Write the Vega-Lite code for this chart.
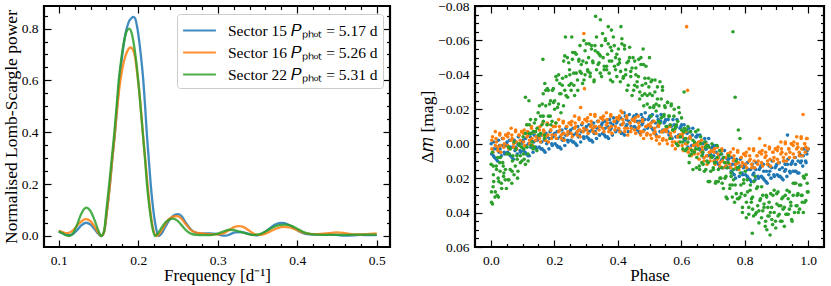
{
"$schema":"https://vega.github.io/schema/vega-lite/v6.json",
"autosize":{"type":"pad"},
"padding":{"left":1,"top":-3,"right":4,"bottom":0},
"background":"white",
"spacing":85,
"bounds":"flush",
"config":{
 "font":"Liberation Serif",
 "view":{"stroke":"black","strokeWidth":2.2},
 "axis":{"domain":false,"grid":false,"labelFont":"Liberation Serif","labelFontSize":13.5,"labelColor":"black","tickColor":"black","tickWidth":1.2,"titleFont":"Liberation Serif","titleFontSize":17.5,"titleFontWeight":"normal","titleColor":"black","labelFlush":false,"labelOverlap":false}
},
"resolve":{"scale":{"color":"independent"},"legend":{"color":"independent"}},
"hconcat":[
{
 "width":346,"height":241,
 "data":{"values":[
{"s":"15","f":0.100,"P":0.017},{"s":"15","f":0.105,"P":0.011},{"s":"15","f":0.110,"P":0.004},{"s":"15","f":0.113,"P":0.003},{"s":"15","f":0.118,"P":0.008},{"s":"15","f":0.123,"P":0.022},{"s":"15","f":0.128,"P":0.040},{"s":"15","f":0.1345,"P":0.051},{"s":"15","f":0.140,"P":0.044},{"s":"15","f":0.145,"P":0.027},{"s":"15","f":0.150,"P":0.008},{"s":"15","f":0.1535,"P":0.0},{"s":"15","f":0.157,"P":0.015},{"s":"15","f":0.1605,"P":0.09},{"s":"15","f":0.1645,"P":0.20},{"s":"15","f":0.1675,"P":0.30},{"s":"15","f":0.1708,"P":0.40},{"s":"15","f":0.1735,"P":0.50},{"s":"15","f":0.1763,"P":0.60},{"s":"15","f":0.180,"P":0.70},{"s":"15","f":0.184,"P":0.78},{"s":"15","f":0.188,"P":0.825},{"s":"15","f":0.1915,"P":0.84},{"s":"15","f":0.1938,"P":0.845},{"s":"15","f":0.196,"P":0.84},{"s":"15","f":0.199,"P":0.80},{"s":"15","f":0.2025,"P":0.72},{"s":"15","f":0.2064,"P":0.60},{"s":"15","f":0.2087,"P":0.50},{"s":"15","f":0.2107,"P":0.40},{"s":"15","f":0.2132,"P":0.30},{"s":"15","f":0.2157,"P":0.20},{"s":"15","f":0.219,"P":0.10},{"s":"15","f":0.2225,"P":0.03},{"s":"15","f":0.2255,"P":0.0},{"s":"15","f":0.229,"P":0.008},{"s":"15","f":0.234,"P":0.035},{"s":"15","f":0.240,"P":0.065},{"s":"15","f":0.245,"P":0.080},{"s":"15","f":0.2505,"P":0.084},{"s":"15","f":0.255,"P":0.075},{"s":"15","f":0.260,"P":0.050},{"s":"15","f":0.266,"P":0.026},{"s":"15","f":0.272,"P":0.013},{"s":"15","f":0.280,"P":0.009},{"s":"15","f":0.290,"P":0.010},{"s":"15","f":0.298,"P":0.008},{"s":"15","f":0.305,"P":0.002},{"s":"15","f":0.310,"P":0.001},{"s":"15","f":0.316,"P":0.007},{"s":"15","f":0.322,"P":0.014},{"s":"15","f":0.330,"P":0.015},{"s":"15","f":0.337,"P":0.010},{"s":"15","f":0.344,"P":0.004},{"s":"15","f":0.350,"P":0.002},{"s":"15","f":0.357,"P":0.010},{"s":"15","f":0.365,"P":0.028},{"s":"15","f":0.373,"P":0.045},{"s":"15","f":0.3805,"P":0.050},{"s":"15","f":0.388,"P":0.045},{"s":"15","f":0.395,"P":0.032},{"s":"15","f":0.402,"P":0.018},{"s":"15","f":0.410,"P":0.008},{"s":"15","f":0.420,"P":0.005},{"s":"15","f":0.430,"P":0.005},{"s":"15","f":0.440,"P":0.005},{"s":"15","f":0.450,"P":0.004},{"s":"15","f":0.460,"P":0.001},{"s":"15","f":0.470,"P":0.002},{"s":"15","f":0.480,"P":0.004},{"s":"15","f":0.490,"P":0.003},{"s":"15","f":0.500,"P":0.003},
{"s":"16","f":0.100,"P":0.020},{"s":"16","f":0.105,"P":0.015},{"s":"16","f":0.110,"P":0.011},{"s":"16","f":0.115,"P":0.015},{"s":"16","f":0.120,"P":0.028},{"s":"16","f":0.125,"P":0.046},{"s":"16","f":0.130,"P":0.060},{"s":"16","f":0.1345,"P":0.065},{"s":"16","f":0.140,"P":0.057},{"s":"16","f":0.145,"P":0.036},{"s":"16","f":0.150,"P":0.012},{"s":"16","f":0.1535,"P":0.0},{"s":"16","f":0.157,"P":0.015},{"s":"16","f":0.1605,"P":0.09},{"s":"16","f":0.1645,"P":0.20},{"s":"16","f":0.1675,"P":0.30},{"s":"16","f":0.1708,"P":0.40},{"s":"16","f":0.1735,"P":0.49},{"s":"16","f":0.1763,"P":0.57},{"s":"16","f":0.180,"P":0.645},{"s":"16","f":0.184,"P":0.695},{"s":"16","f":0.1875,"P":0.72},{"s":"16","f":0.1905,"P":0.727},{"s":"16","f":0.193,"P":0.72},{"s":"16","f":0.196,"P":0.69},{"s":"16","f":0.199,"P":0.62},{"s":"16","f":0.2025,"P":0.52},{"s":"16","f":0.2057,"P":0.40},{"s":"16","f":0.209,"P":0.29},{"s":"16","f":0.212,"P":0.19},{"s":"16","f":0.2155,"P":0.09},{"s":"16","f":0.219,"P":0.025},{"s":"16","f":0.2233,"P":0.0},{"s":"16","f":0.227,"P":0.01},{"s":"16","f":0.232,"P":0.035},{"s":"16","f":0.238,"P":0.063},{"s":"16","f":0.244,"P":0.075},{"s":"16","f":0.249,"P":0.077},{"s":"16","f":0.254,"P":0.068},{"s":"16","f":0.260,"P":0.045},{"s":"16","f":0.266,"P":0.024},{"s":"16","f":0.272,"P":0.014},{"s":"16","f":0.280,"P":0.010},{"s":"16","f":0.290,"P":0.007},{"s":"16","f":0.300,"P":0.006},{"s":"16","f":0.307,"P":0.010},{"s":"16","f":0.314,"P":0.022},{"s":"16","f":0.320,"P":0.033},{"s":"16","f":0.326,"P":0.038},{"s":"16","f":0.332,"P":0.035},{"s":"16","f":0.338,"P":0.024},{"s":"16","f":0.344,"P":0.011},{"s":"16","f":0.350,"P":0.004},{"s":"16","f":0.357,"P":0.006},{"s":"16","f":0.365,"P":0.016},{"s":"16","f":0.373,"P":0.028},{"s":"16","f":0.3826,"P":0.035},{"s":"16","f":0.390,"P":0.033},{"s":"16","f":0.398,"P":0.025},{"s":"16","f":0.406,"P":0.015},{"s":"16","f":0.414,"P":0.009},{"s":"16","f":0.422,"P":0.007},{"s":"16","f":0.430,"P":0.008},{"s":"16","f":0.440,"P":0.011},{"s":"16","f":0.4497,"P":0.014},{"s":"16","f":0.458,"P":0.012},{"s":"16","f":0.466,"P":0.008},{"s":"16","f":0.475,"P":0.006},{"s":"16","f":0.485,"P":0.007},{"s":"16","f":0.495,"P":0.009},{"s":"16","f":0.500,"P":0.010},
{"s":"22","f":0.100,"P":0.018},{"s":"22","f":0.105,"P":0.010},{"s":"22","f":0.110,"P":0.002},{"s":"22","f":0.1135,"P":0.0},{"s":"22","f":0.118,"P":0.010},{"s":"22","f":0.123,"P":0.043},{"s":"22","f":0.128,"P":0.083},{"s":"22","f":0.1345,"P":0.109},{"s":"22","f":0.140,"P":0.096},{"s":"22","f":0.145,"P":0.062},{"s":"22","f":0.150,"P":0.020},{"s":"22","f":0.1535,"P":0.0},{"s":"22","f":0.157,"P":0.018},{"s":"22","f":0.160,"P":0.10},{"s":"22","f":0.1635,"P":0.20},{"s":"22","f":0.1668,"P":0.30},{"s":"22","f":0.170,"P":0.40},{"s":"22","f":0.1728,"P":0.50},{"s":"22","f":0.1755,"P":0.60},{"s":"22","f":0.179,"P":0.69},{"s":"22","f":0.1825,"P":0.755},{"s":"22","f":0.1855,"P":0.79},{"s":"22","f":0.1888,"P":0.80},{"s":"22","f":0.192,"P":0.78},{"s":"22","f":0.195,"P":0.73},{"s":"22","f":0.198,"P":0.66},{"s":"22","f":0.2015,"P":0.55},{"s":"22","f":0.2057,"P":0.40},{"s":"22","f":0.2085,"P":0.30},{"s":"22","f":0.211,"P":0.20},{"s":"22","f":0.2145,"P":0.10},{"s":"22","f":0.218,"P":0.03},{"s":"22","f":0.221,"P":0.0},{"s":"22","f":0.224,"P":0.007},{"s":"22","f":0.229,"P":0.03},{"s":"22","f":0.235,"P":0.055},{"s":"22","f":0.2434,"P":0.067},{"s":"22","f":0.249,"P":0.060},{"s":"22","f":0.255,"P":0.040},{"s":"22","f":0.261,"P":0.020},{"s":"22","f":0.267,"P":0.008},{"s":"22","f":0.273,"P":0.004},{"s":"22","f":0.280,"P":0.003},{"s":"22","f":0.290,"P":0.003},{"s":"22","f":0.298,"P":0.007},{"s":"22","f":0.306,"P":0.016},{"s":"22","f":0.3155,"P":0.024},{"s":"22","f":0.324,"P":0.020},{"s":"22","f":0.332,"P":0.013},{"s":"22","f":0.339,"P":0.007},{"s":"22","f":0.345,"P":0.004},{"s":"22","f":0.352,"P":0.006},{"s":"22","f":0.360,"P":0.017},{"s":"22","f":0.368,"P":0.031},{"s":"22","f":0.376,"P":0.041},{"s":"22","f":0.3847,"P":0.044},{"s":"22","f":0.392,"P":0.040},{"s":"22","f":0.400,"P":0.028},{"s":"22","f":0.408,"P":0.015},{"s":"22","f":0.416,"P":0.008},{"s":"22","f":0.425,"P":0.005},{"s":"22","f":0.440,"P":0.004},{"s":"22","f":0.455,"P":0.004},{"s":"22","f":0.470,"P":0.005},{"s":"22","f":0.485,"P":0.005},{"s":"22","f":0.500,"P":0.005}
 ]},
 "layer":[
  {"mark":{"type":"line","interpolate":"monotone","strokeWidth":2.3,"opacity":0.85},
   "encoding":{
    "x":{"field":"f","type":"quantitative","scale":{"domain":[0.0815,0.5167],"nice":false,"zero":false},"axis":{"orient":"bottom","values":[0.1,0.2,0.3,0.4,0.5],"format":".1f","tickSize":-7,"labelPadding":13,"title":"Frequency [d⁻¹]","titlePadding":1,"titleFontSize":17}},
    "y":{"field":"P","type":"quantitative","scale":{"domain":[-0.0425,0.887],"nice":false,"zero":false},"axis":{"orient":"left","values":[0,0.2,0.4,0.6,0.8],"format":".1f","tickSize":-7,"labelPadding":13,"title":"Normalised Lomb-Scargle power","titlePadding":1}},
    "color":{"field":"s","type":"nominal","scale":{"domain":["15","16","22"],"range":["#1f77b4","#ff7f0e","#2ca02c"]},
     "legend":{"orient":"top-right","offset":7.5,"title":null,"padding":5,"fillColor":"rgba(255,255,255,0.85)","strokeColor":"#cccccc","cornerRadius":3,"symbolType":"M-1.6,0H1.6","symbolSize":420,"symbolStrokeWidth":2.2,"symbolOffset":6,"labelOffset":17,"rowPadding":2,"labelFont":"Liberation Serif","labelFontSize":15.5,"labelColor":"black",
      "labelExpr":"datum.label == '15' ? 'Sector 15 𝑃ₚₕₒₜ = 5.17 d' : datum.label == '16' ? 'Sector 16 𝑃ₚₕₒₜ = 5.26 d' : 'Sector 22 𝑃ₚₕₒₜ = 5.31 d'"}}
   }},
  {"mark":{"type":"point","opacity":0},
   "encoding":{
    "x":{"field":"f","type":"quantitative","axis":{"orient":"bottom","values":[0.12,0.14,0.16,0.18,0.22,0.24,0.26,0.28,0.32,0.34,0.36,0.38,0.42,0.44,0.46,0.48],"labels":false,"tickSize":-3.5,"title":null}},
    "y":{"field":"P","type":"quantitative","axis":{"orient":"left","values":[0.05,0.1,0.15,0.25,0.3,0.35,0.45,0.5,0.55,0.65,0.7,0.75,0.85],"labels":false,"tickSize":-3.5,"title":null}}
   }},
  {"mark":{"type":"point","opacity":0},
   "encoding":{
    "x":{"field":"f","type":"quantitative","axis":{"orient":"top","values":[0.1,0.2,0.3,0.4,0.5],"labels":false,"tickSize":-7,"title":null}},
    "y":{"field":"P","type":"quantitative","axis":{"orient":"right","values":[0,0.2,0.4,0.6,0.8],"labels":false,"tickSize":-7,"title":null}}
   }},
  {"mark":{"type":"point","opacity":0},
   "encoding":{
    "x":{"field":"f","type":"quantitative","axis":{"orient":"top","values":[0.12,0.14,0.16,0.18,0.22,0.24,0.26,0.28,0.32,0.34,0.36,0.38,0.42,0.44,0.46,0.48],"labels":false,"tickSize":-3.5,"title":null}},
    "y":{"field":"P","type":"quantitative","axis":{"orient":"right","values":[0.05,0.1,0.15,0.25,0.3,0.35,0.45,0.5,0.55,0.65,0.7,0.75,0.85],"labels":false,"tickSize":-3.5,"title":null}}
   }}
 ],
 "resolve":{"axis":{"x":"independent","y":"independent"}}
},
{
 "width":349,"height":241,
 "data":{"values":[
{"s":"15","p":0.001,"m":0.000},{"s":"15","p":0.008,"m":0.007},{"s":"15","p":0.010,"m":0.003},{"s":"15","p":0.017,"m":0.009},{"s":"15","p":0.024,"m":-0.002},{"s":"15","p":0.026,"m":0.005},{"s":"15","p":0.033,"m":0.007},{"s":"15","p":0.035,"m":0.001},{"s":"15","p":0.042,"m":0.005},{"s":"15","p":0.049,"m":0.000},
{"s":"15","p":0.051,"m":-0.001},{"s":"15","p":0.058,"m":0.006},{"s":"15","p":0.060,"m":0.002},{"s":"15","p":0.067,"m":0.008},{"s":"15","p":0.074,"m":-0.002},{"s":"15","p":0.076,"m":0.004},{"s":"15","p":0.083,"m":0.006},{"s":"15","p":0.085,"m":0.000},{"s":"15","p":0.092,"m":0.004},{"s":"15","p":0.099,"m":-0.001},
{"s":"15","p":0.101,"m":-0.002},{"s":"15","p":0.108,"m":0.005},{"s":"15","p":0.110,"m":0.001},{"s":"15","p":0.117,"m":0.007},{"s":"15","p":0.124,"m":-0.004},{"s":"15","p":0.126,"m":0.002},{"s":"15","p":0.133,"m":0.005},{"s":"15","p":0.135,"m":-0.001},{"s":"15","p":0.142,"m":0.002},{"s":"15","p":0.149,"m":-0.003},
{"s":"15","p":0.151,"m":-0.004},{"s":"15","p":0.158,"m":0.003},{"s":"15","p":0.160,"m":-0.001},{"s":"15","p":0.167,"m":0.004},{"s":"15","p":0.174,"m":-0.006},{"s":"15","p":0.176,"m":0.000},{"s":"15","p":0.183,"m":0.003},{"s":"15","p":0.185,"m":-0.003},{"s":"15","p":0.192,"m":0.000},{"s":"15","p":0.199,"m":-0.005},
{"s":"15","p":0.201,"m":-0.006},{"s":"15","p":0.208,"m":0.001},{"s":"15","p":0.210,"m":-0.003},{"s":"15","p":0.217,"m":0.002},{"s":"15","p":0.224,"m":-0.008},{"s":"15","p":0.226,"m":-0.002},{"s":"15","p":0.233,"m":0.001},{"s":"15","p":0.235,"m":-0.005},{"s":"15","p":0.242,"m":-0.002},{"s":"15","p":0.249,"m":-0.007},
{"s":"15","p":0.251,"m":-0.008},{"s":"15","p":0.258,"m":-0.001},{"s":"15","p":0.260,"m":-0.005},{"s":"15","p":0.267,"m":0.000},{"s":"15","p":0.274,"m":-0.010},{"s":"15","p":0.276,"m":-0.004},{"s":"15","p":0.283,"m":-0.001},{"s":"15","p":0.285,"m":-0.007},{"s":"15","p":0.292,"m":-0.004},{"s":"15","p":0.299,"m":-0.009},
{"s":"15","p":0.301,"m":-0.010},{"s":"15","p":0.308,"m":-0.003},{"s":"15","p":0.310,"m":-0.007},{"s":"15","p":0.317,"m":-0.002},{"s":"15","p":0.324,"m":-0.012},{"s":"15","p":0.326,"m":-0.006},{"s":"15","p":0.333,"m":-0.003},{"s":"15","p":0.335,"m":-0.009},{"s":"15","p":0.342,"m":-0.005},{"s":"15","p":0.349,"m":-0.011},
{"s":"15","p":0.351,"m":-0.012},{"s":"15","p":0.358,"m":-0.005},{"s":"15","p":0.360,"m":-0.009},{"s":"15","p":0.367,"m":-0.004},{"s":"15","p":0.374,"m":-0.014},{"s":"15","p":0.376,"m":-0.008},{"s":"15","p":0.383,"m":-0.005},{"s":"15","p":0.385,"m":-0.011},{"s":"15","p":0.392,"m":-0.008},{"s":"15","p":0.399,"m":-0.013},
{"s":"15","p":0.401,"m":-0.014},{"s":"15","p":0.408,"m":-0.007},{"s":"15","p":0.410,"m":-0.011},{"s":"15","p":0.417,"m":-0.006},{"s":"15","p":0.424,"m":-0.016},{"s":"15","p":0.426,"m":-0.010},{"s":"15","p":0.433,"m":-0.007},{"s":"15","p":0.435,"m":-0.013},{"s":"15","p":0.442,"m":-0.010},{"s":"15","p":0.449,"m":-0.015},
{"s":"15","p":0.451,"m":-0.016},{"s":"15","p":0.458,"m":-0.009},{"s":"15","p":0.460,"m":-0.013},{"s":"15","p":0.467,"m":-0.007},{"s":"15","p":0.474,"m":-0.017},{"s":"15","p":0.476,"m":-0.011},{"s":"15","p":0.483,"m":-0.008},{"s":"15","p":0.485,"m":-0.014},{"s":"15","p":0.492,"m":-0.010},{"s":"15","p":0.499,"m":-0.015},
{"s":"15","p":0.501,"m":-0.016},{"s":"15","p":0.508,"m":-0.009},{"s":"15","p":0.510,"m":-0.013},{"s":"15","p":0.517,"m":-0.006},{"s":"15","p":0.524,"m":-0.016},{"s":"15","p":0.526,"m":-0.010},{"s":"15","p":0.533,"m":-0.007},{"s":"15","p":0.535,"m":-0.013},{"s":"15","p":0.542,"m":-0.008},{"s":"15","p":0.549,"m":-0.013},
{"s":"15","p":0.551,"m":-0.014},{"s":"15","p":0.558,"m":-0.007},{"s":"15","p":0.560,"m":-0.010},{"s":"15","p":0.567,"m":-0.004},{"s":"15","p":0.574,"m":-0.014},{"s":"15","p":0.576,"m":-0.008},{"s":"15","p":0.583,"m":-0.004},{"s":"15","p":0.585,"m":-0.010},{"s":"15","p":0.592,"m":-0.005},{"s":"15","p":0.599,"m":-0.010},
{"s":"15","p":0.601,"m":-0.011},{"s":"15","p":0.608,"m":-0.003},{"s":"15","p":0.610,"m":-0.007},{"s":"15","p":0.617,"m":0.000},{"s":"15","p":0.624,"m":-0.009},{"s":"15","p":0.626,"m":-0.003},{"s":"15","p":0.633,"m":0.001},{"s":"15","p":0.635,"m":-0.005},{"s":"15","p":0.642,"m":0.000},{"s":"15","p":0.649,"m":-0.004},
{"s":"15","p":0.651,"m":-0.005},{"s":"15","p":0.658,"m":0.003},{"s":"15","p":0.660,"m":-0.001},{"s":"15","p":0.667,"m":0.006},{"s":"15","p":0.674,"m":-0.003},{"s":"15","p":0.676,"m":0.003},{"s":"15","p":0.683,"m":0.007},{"s":"15","p":0.685,"m":0.001},{"s":"15","p":0.692,"m":0.006},{"s":"15","p":0.699,"m":0.002},
{"s":"15","p":0.701,"m":0.001},{"s":"15","p":0.708,"m":0.009},{"s":"15","p":0.710,"m":0.005},{"s":"15","p":0.717,"m":0.012},{"s":"15","p":0.724,"m":0.004},{"s":"15","p":0.726,"m":0.010},{"s":"15","p":0.733,"m":0.014},{"s":"15","p":0.735,"m":0.008},{"s":"15","p":0.742,"m":0.013},{"s":"15","p":0.749,"m":0.009},
{"s":"15","p":0.751,"m":0.008},{"s":"15","p":0.758,"m":0.016},{"s":"15","p":0.760,"m":0.012},{"s":"15","p":0.767,"m":0.018},{"s":"15","p":0.774,"m":0.009},{"s":"15","p":0.776,"m":0.015},{"s":"15","p":0.783,"m":0.019},{"s":"15","p":0.785,"m":0.013},{"s":"15","p":0.792,"m":0.017},{"s":"15","p":0.799,"m":0.013},
{"s":"15","p":0.801,"m":0.012},{"s":"15","p":0.808,"m":0.019},{"s":"15","p":0.810,"m":0.015},{"s":"15","p":0.817,"m":0.021},{"s":"15","p":0.824,"m":0.012},{"s":"15","p":0.826,"m":0.018},{"s":"15","p":0.833,"m":0.021},{"s":"15","p":0.835,"m":0.015},{"s":"15","p":0.842,"m":0.019},{"s":"15","p":0.849,"m":0.014},
{"s":"15","p":0.851,"m":0.013},{"s":"15","p":0.858,"m":0.020},{"s":"15","p":0.860,"m":0.016},{"s":"15","p":0.867,"m":0.022},{"s":"15","p":0.874,"m":0.012},{"s":"15","p":0.876,"m":0.018},{"s":"15","p":0.883,"m":0.020},{"s":"15","p":0.885,"m":0.014},{"s":"15","p":0.892,"m":0.018},{"s":"15","p":0.899,"m":0.013},
{"s":"15","p":0.901,"m":0.012},{"s":"15","p":0.908,"m":0.019},{"s":"15","p":0.910,"m":0.015},{"s":"15","p":0.917,"m":0.020},{"s":"15","p":0.924,"m":0.010},{"s":"15","p":0.926,"m":0.016},{"s":"15","p":0.933,"m":0.019},{"s":"15","p":0.935,"m":0.012},{"s":"15","p":0.942,"m":0.016},{"s":"15","p":0.949,"m":0.011},
{"s":"15","p":0.951,"m":0.010},{"s":"15","p":0.958,"m":0.016},{"s":"15","p":0.960,"m":0.012},{"s":"15","p":0.967,"m":0.017},{"s":"15","p":0.974,"m":0.006},{"s":"15","p":0.976,"m":0.011},{"s":"15","p":0.983,"m":0.013},{"s":"15","p":0.985,"m":0.007},{"s":"15","p":0.992,"m":0.010},{"s":"15","p":0.997,"m":0.004},{"s":"15","p":1.000,"m":0.003},
{"s":"15","p":0.935,"m":-0.005},{"s":"15","p":0.42,"m":-0.018},
{"s":"15","p":0.0025,"m":0.006},{"s":"15","p":0.009,"m":-0.001},{"s":"15","p":0.0115,"m":0.008},{"s":"15","p":0.0185,"m":0.003},{"s":"15","p":0.021,"m":0.010},{"s":"15","p":0.0275,"m":0.001},{"s":"15","p":0.029,"m":0.003},{"s":"15","p":0.0365,"m":-0.003},{"s":"15","p":0.0435,"m":0.006},{"s":"15","p":0.046,"m":0.001},
{"s":"15","p":0.0525,"m":0.005},{"s":"15","p":0.059,"m":-0.002},{"s":"15","p":0.0615,"m":0.007},{"s":"15","p":0.0685,"m":0.002},{"s":"15","p":0.071,"m":0.009},{"s":"15","p":0.0775,"m":-0.001},{"s":"15","p":0.079,"m":0.002},{"s":"15","p":0.0865,"m":-0.004},{"s":"15","p":0.0935,"m":0.005},{"s":"15","p":0.096,"m":0.000},
{"s":"15","p":0.1025,"m":0.004},{"s":"15","p":0.109,"m":-0.003},{"s":"15","p":0.1115,"m":0.006},{"s":"15","p":0.1185,"m":0.000},{"s":"15","p":0.121,"m":0.007},{"s":"15","p":0.1275,"m":-0.002},{"s":"15","p":0.129,"m":0.001},{"s":"15","p":0.1365,"m":-0.005},{"s":"15","p":0.1435,"m":0.003},{"s":"15","p":0.146,"m":-0.002},
{"s":"15","p":0.1525,"m":0.002},{"s":"15","p":0.159,"m":-0.005},{"s":"15","p":0.1615,"m":0.003},{"s":"15","p":0.1685,"m":-0.002},{"s":"15","p":0.171,"m":0.005},{"s":"15","p":0.1775,"m":-0.004},{"s":"15","p":0.179,"m":-0.001},{"s":"15","p":0.1865,"m":-0.007},{"s":"15","p":0.1935,"m":0.001},{"s":"15","p":0.196,"m":-0.004},
{"s":"15","p":0.2025,"m":0.000},{"s":"15","p":0.209,"m":-0.007},{"s":"15","p":0.2115,"m":0.002},{"s":"15","p":0.2185,"m":-0.004},{"s":"15","p":0.221,"m":0.003},{"s":"15","p":0.2275,"m":-0.006},{"s":"15","p":0.229,"m":-0.003},{"s":"15","p":0.2365,"m":-0.009},{"s":"15","p":0.2435,"m":-0.001},{"s":"15","p":0.246,"m":-0.006},
{"s":"15","p":0.2525,"m":-0.002},{"s":"15","p":0.259,"m":-0.009},{"s":"15","p":0.2615,"m":-0.001},{"s":"15","p":0.2685,"m":-0.006},{"s":"15","p":0.271,"m":0.001},{"s":"15","p":0.2775,"m":-0.008},{"s":"15","p":0.279,"m":-0.005},{"s":"15","p":0.2865,"m":-0.011},{"s":"15","p":0.2935,"m":-0.003},{"s":"15","p":0.296,"m":-0.008},
{"s":"15","p":0.3025,"m":-0.004},{"s":"15","p":0.309,"m":-0.011},{"s":"15","p":0.3115,"m":-0.002},{"s":"15","p":0.3185,"m":-0.008},{"s":"15","p":0.321,"m":-0.001},{"s":"15","p":0.3275,"m":-0.010},{"s":"15","p":0.329,"m":-0.007},{"s":"15","p":0.3365,"m":-0.013},{"s":"15","p":0.3435,"m":-0.005},{"s":"15","p":0.346,"m":-0.010},
{"s":"15","p":0.3525,"m":-0.006},{"s":"15","p":0.359,"m":-0.013},{"s":"15","p":0.3615,"m":-0.004},{"s":"15","p":0.3685,"m":-0.010},{"s":"15","p":0.371,"m":-0.003},{"s":"15","p":0.3775,"m":-0.012},{"s":"15","p":0.379,"m":-0.009},{"s":"15","p":0.3865,"m":-0.015},{"s":"15","p":0.3935,"m":-0.007},{"s":"15","p":0.396,"m":-0.012},
{"s":"15","p":0.4025,"m":-0.008},{"s":"15","p":0.409,"m":-0.015},{"s":"15","p":0.4115,"m":-0.006},{"s":"15","p":0.4185,"m":-0.012},{"s":"15","p":0.421,"m":-0.005},{"s":"15","p":0.4275,"m":-0.014},{"s":"15","p":0.429,"m":-0.011},{"s":"15","p":0.4365,"m":-0.017},{"s":"15","p":0.4435,"m":-0.009},{"s":"15","p":0.446,"m":-0.014},
{"s":"15","p":0.4525,"m":-0.010},{"s":"15","p":0.459,"m":-0.017},{"s":"15","p":0.4615,"m":-0.008},{"s":"15","p":0.4685,"m":-0.013},{"s":"15","p":0.471,"m":-0.006},{"s":"15","p":0.4775,"m":-0.015},{"s":"15","p":0.479,"m":-0.012},{"s":"15","p":0.4865,"m":-0.018},{"s":"15","p":0.4935,"m":-0.009},{"s":"15","p":0.496,"m":-0.014},
{"s":"15","p":0.5025,"m":-0.010},{"s":"15","p":0.509,"m":-0.017},{"s":"15","p":0.5115,"m":-0.008},{"s":"15","p":0.5185,"m":-0.012},{"s":"15","p":0.521,"m":-0.005},{"s":"15","p":0.5275,"m":-0.014},{"s":"15","p":0.529,"m":-0.011},{"s":"15","p":0.5365,"m":-0.017},{"s":"15","p":0.5435,"m":-0.007},{"s":"15","p":0.546,"m":-0.012},
{"s":"15","p":0.5525,"m":-0.008},{"s":"15","p":0.559,"m":-0.014},{"s":"15","p":0.5615,"m":-0.005},{"s":"15","p":0.5685,"m":-0.010},{"s":"15","p":0.571,"m":-0.003},{"s":"15","p":0.5775,"m":-0.011},{"s":"15","p":0.579,"m":-0.008},{"s":"15","p":0.5865,"m":-0.014},{"s":"15","p":0.5935,"m":-0.004},{"s":"15","p":0.596,"m":-0.009},
{"s":"15","p":0.6025,"m":-0.005},{"s":"15","p":0.609,"m":-0.011},{"s":"15","p":0.6115,"m":-0.002},{"s":"15","p":0.6185,"m":-0.006},{"s":"15","p":0.621,"m":0.002},{"s":"15","p":0.6275,"m":-0.007},{"s":"15","p":0.629,"m":-0.004},{"s":"15","p":0.6365,"m":-0.009},{"s":"15","p":0.6435,"m":0.001},{"s":"15","p":0.646,"m":-0.004},
{"s":"15","p":0.6525,"m":0.001},{"s":"15","p":0.659,"m":-0.005},{"s":"15","p":0.6615,"m":0.004},{"s":"15","p":0.6685,"m":0.000},{"s":"15","p":0.671,"m":0.008},{"s":"15","p":0.6775,"m":-0.001},{"s":"15","p":0.679,"m":0.003},{"s":"15","p":0.6865,"m":-0.003},{"s":"15","p":0.6935,"m":0.007},{"s":"15","p":0.696,"m":0.003},
{"s":"15","p":0.7025,"m":0.007},{"s":"15","p":0.709,"m":0.001},{"s":"15","p":0.7115,"m":0.011},{"s":"15","p":0.7185,"m":0.007},{"s":"15","p":0.721,"m":0.014},{"s":"15","p":0.7275,"m":0.006},{"s":"15","p":0.729,"m":0.009},{"s":"15","p":0.7365,"m":0.004},{"s":"15","p":0.7435,"m":0.014},{"s":"15","p":0.746,"m":0.009},
{"s":"15","p":0.7525,"m":0.014},{"s":"15","p":0.759,"m":0.008},{"s":"15","p":0.7615,"m":0.017},{"s":"15","p":0.7685,"m":0.012},{"s":"15","p":0.771,"m":0.020},{"s":"15","p":0.7775,"m":0.011},{"s":"15","p":0.779,"m":0.014},{"s":"15","p":0.7865,"m":0.009},{"s":"15","p":0.7935,"m":0.018},{"s":"15","p":0.796,"m":0.014},
{"s":"15","p":0.8025,"m":0.018},{"s":"15","p":0.809,"m":0.011},{"s":"15","p":0.8115,"m":0.020},{"s":"15","p":0.8185,"m":0.015},{"s":"15","p":0.821,"m":0.022},{"s":"15","p":0.8275,"m":0.014},{"s":"15","p":0.829,"m":0.017},{"s":"15","p":0.8365,"m":0.011},{"s":"15","p":0.8435,"m":0.020},{"s":"15","p":0.846,"m":0.015},
{"s":"15","p":0.8525,"m":0.019},{"s":"15","p":0.859,"m":0.012},{"s":"15","p":0.8615,"m":0.021},{"s":"15","p":0.8685,"m":0.016},{"s":"15","p":0.871,"m":0.023},{"s":"15","p":0.8775,"m":0.013},{"s":"15","p":0.879,"m":0.016},{"s":"15","p":0.8865,"m":0.010},{"s":"15","p":0.8935,"m":0.019},{"s":"15","p":0.896,"m":0.014},
{"s":"15","p":0.9025,"m":0.018},{"s":"15","p":0.909,"m":0.011},{"s":"15","p":0.9115,"m":0.019},{"s":"15","p":0.9185,"m":0.014},{"s":"15","p":0.921,"m":0.021},{"s":"15","p":0.9275,"m":0.012},{"s":"15","p":0.929,"m":0.015},{"s":"15","p":0.9365,"m":0.009},{"s":"15","p":0.9435,"m":0.017},{"s":"15","p":0.946,"m":0.012},
{"s":"15","p":0.9525,"m":0.016},{"s":"15","p":0.959,"m":0.008},{"s":"15","p":0.9615,"m":0.016},{"s":"15","p":0.9685,"m":0.010},{"s":"15","p":0.971,"m":0.017},{"s":"15","p":0.9775,"m":0.007},{"s":"15","p":0.979,"m":0.010},{"s":"15","p":0.9865,"m":0.003},{"s":"15","p":0.9935,"m":0.011},{"s":"15","p":0.996,"m":0.006},
{"s":"16","p":0.003,"m":0.003},{"s":"16","p":0.005,"m":-0.004},{"s":"16","p":0.014,"m":0.001},{"s":"16","p":0.016,"m":-0.003},{"s":"16","p":0.022,"m":0.004},{"s":"16","p":0.028,"m":-0.006},{"s":"16","p":0.030,"m":0.001},{"s":"16","p":0.039,"m":-0.003},{"s":"16","p":0.041,"m":0.002},{"s":"16","p":0.047,"m":-0.005},
{"s":"16","p":0.053,"m":0.001},{"s":"16","p":0.055,"m":-0.006},{"s":"16","p":0.064,"m":-0.002},{"s":"16","p":0.066,"m":-0.005},{"s":"16","p":0.072,"m":0.002},{"s":"16","p":0.078,"m":-0.008},{"s":"16","p":0.080,"m":-0.001},{"s":"16","p":0.089,"m":-0.005},{"s":"16","p":0.091,"m":0.000},{"s":"16","p":0.097,"m":-0.007},
{"s":"16","p":0.103,"m":-0.001},{"s":"16","p":0.105,"m":-0.008},{"s":"16","p":0.114,"m":-0.004},{"s":"16","p":0.116,"m":-0.007},{"s":"16","p":0.122,"m":0.000},{"s":"16","p":0.128,"m":-0.010},{"s":"16","p":0.130,"m":-0.003},{"s":"16","p":0.139,"m":-0.007},{"s":"16","p":0.141,"m":-0.002},{"s":"16","p":0.147,"m":-0.009},
{"s":"16","p":0.153,"m":-0.003},{"s":"16","p":0.155,"m":-0.010},{"s":"16","p":0.164,"m":-0.005},{"s":"16","p":0.166,"m":-0.008},{"s":"16","p":0.172,"m":-0.002},{"s":"16","p":0.178,"m":-0.012},{"s":"16","p":0.180,"m":-0.005},{"s":"16","p":0.189,"m":-0.008},{"s":"16","p":0.191,"m":-0.003},{"s":"16","p":0.197,"m":-0.010},
{"s":"16","p":0.203,"m":-0.005},{"s":"16","p":0.205,"m":-0.012},{"s":"16","p":0.214,"m":-0.007},{"s":"16","p":0.216,"m":-0.010},{"s":"16","p":0.222,"m":-0.003},{"s":"16","p":0.228,"m":-0.013},{"s":"16","p":0.230,"m":-0.006},{"s":"16","p":0.239,"m":-0.010},{"s":"16","p":0.241,"m":-0.005},{"s":"16","p":0.247,"m":-0.012},
{"s":"16","p":0.253,"m":-0.006},{"s":"16","p":0.255,"m":-0.013},{"s":"16","p":0.264,"m":-0.009},{"s":"16","p":0.266,"m":-0.012},{"s":"16","p":0.272,"m":-0.005},{"s":"16","p":0.278,"m":-0.015},{"s":"16","p":0.280,"m":-0.008},{"s":"16","p":0.289,"m":-0.012},{"s":"16","p":0.291,"m":-0.007},{"s":"16","p":0.297,"m":-0.014},
{"s":"16","p":0.303,"m":-0.008},{"s":"16","p":0.305,"m":-0.015},{"s":"16","p":0.314,"m":-0.010},{"s":"16","p":0.316,"m":-0.013},{"s":"16","p":0.322,"m":-0.007},{"s":"16","p":0.328,"m":-0.017},{"s":"16","p":0.330,"m":-0.010},{"s":"16","p":0.339,"m":-0.013},{"s":"16","p":0.341,"m":-0.008},{"s":"16","p":0.347,"m":-0.015},
{"s":"16","p":0.353,"m":-0.009},{"s":"16","p":0.355,"m":-0.016},{"s":"16","p":0.364,"m":-0.011},{"s":"16","p":0.366,"m":-0.014},{"s":"16","p":0.372,"m":-0.007},{"s":"16","p":0.378,"m":-0.017},{"s":"16","p":0.380,"m":-0.010},{"s":"16","p":0.389,"m":-0.013},{"s":"16","p":0.391,"m":-0.008},{"s":"16","p":0.397,"m":-0.015},
{"s":"16","p":0.403,"m":-0.009},{"s":"16","p":0.405,"m":-0.016},{"s":"16","p":0.414,"m":-0.011},{"s":"16","p":0.416,"m":-0.014},{"s":"16","p":0.422,"m":-0.007},{"s":"16","p":0.428,"m":-0.016},{"s":"16","p":0.430,"m":-0.009},{"s":"16","p":0.439,"m":-0.012},{"s":"16","p":0.441,"m":-0.007},{"s":"16","p":0.447,"m":-0.014},
{"s":"16","p":0.453,"m":-0.008},{"s":"16","p":0.455,"m":-0.015},{"s":"16","p":0.464,"m":-0.009},{"s":"16","p":0.466,"m":-0.012},{"s":"16","p":0.472,"m":-0.005},{"s":"16","p":0.478,"m":-0.014},{"s":"16","p":0.480,"m":-0.007},{"s":"16","p":0.489,"m":-0.010},{"s":"16","p":0.491,"m":-0.005},{"s":"16","p":0.497,"m":-0.011},
{"s":"16","p":0.503,"m":-0.005},{"s":"16","p":0.505,"m":-0.012},{"s":"16","p":0.514,"m":-0.006},{"s":"16","p":0.516,"m":-0.009},{"s":"16","p":0.522,"m":-0.002},{"s":"16","p":0.528,"m":-0.011},{"s":"16","p":0.530,"m":-0.004},{"s":"16","p":0.539,"m":-0.007},{"s":"16","p":0.541,"m":-0.002},{"s":"16","p":0.547,"m":-0.008},
{"s":"16","p":0.553,"m":-0.002},{"s":"16","p":0.555,"m":-0.009},{"s":"16","p":0.564,"m":-0.003},{"s":"16","p":0.566,"m":-0.006},{"s":"16","p":0.572,"m":0.001},{"s":"16","p":0.578,"m":-0.008},{"s":"16","p":0.580,"m":-0.001},{"s":"16","p":0.589,"m":-0.004},{"s":"16","p":0.591,"m":0.001},{"s":"16","p":0.597,"m":-0.005},
{"s":"16","p":0.603,"m":0.001},{"s":"16","p":0.605,"m":-0.006},{"s":"16","p":0.614,"m":0.000},{"s":"16","p":0.616,"m":-0.003},{"s":"16","p":0.622,"m":0.005},{"s":"16","p":0.628,"m":-0.004},{"s":"16","p":0.630,"m":0.003},{"s":"16","p":0.639,"m":0.001},{"s":"16","p":0.641,"m":0.006},{"s":"16","p":0.647,"m":0.000},
{"s":"16","p":0.653,"m":0.006},{"s":"16","p":0.655,"m":-0.001},{"s":"16","p":0.664,"m":0.005},{"s":"16","p":0.666,"m":0.002},{"s":"16","p":0.672,"m":0.010},{"s":"16","p":0.678,"m":0.000},{"s":"16","p":0.680,"m":0.007},{"s":"16","p":0.689,"m":0.005},{"s":"16","p":0.691,"m":0.010},{"s":"16","p":0.697,"m":0.004},
{"s":"16","p":0.703,"m":0.010},{"s":"16","p":0.705,"m":0.003},{"s":"16","p":0.714,"m":0.009},{"s":"16","p":0.716,"m":0.006},{"s":"16","p":0.722,"m":0.013},{"s":"16","p":0.728,"m":0.003},{"s":"16","p":0.730,"m":0.010},{"s":"16","p":0.739,"m":0.008},{"s":"16","p":0.741,"m":0.013},{"s":"16","p":0.747,"m":0.006},
{"s":"16","p":0.753,"m":0.012},{"s":"16","p":0.755,"m":0.005},{"s":"16","p":0.764,"m":0.010},{"s":"16","p":0.766,"m":0.007},{"s":"16","p":0.772,"m":0.014},{"s":"16","p":0.778,"m":0.004},{"s":"16","p":0.780,"m":0.011},{"s":"16","p":0.789,"m":0.008},{"s":"16","p":0.791,"m":0.013},{"s":"16","p":0.797,"m":0.006},
{"s":"16","p":0.803,"m":0.012},{"s":"16","p":0.805,"m":0.005},{"s":"16","p":0.814,"m":0.010},{"s":"16","p":0.816,"m":0.007},{"s":"16","p":0.822,"m":0.014},{"s":"16","p":0.828,"m":0.003},{"s":"16","p":0.830,"m":0.010},{"s":"16","p":0.839,"m":0.007},{"s":"16","p":0.841,"m":0.012},{"s":"16","p":0.847,"m":0.005},
{"s":"16","p":0.853,"m":0.011},{"s":"16","p":0.855,"m":0.004},{"s":"16","p":0.864,"m":0.008},{"s":"16","p":0.866,"m":0.005},{"s":"16","p":0.872,"m":0.012},{"s":"16","p":0.878,"m":0.002},{"s":"16","p":0.880,"m":0.009},{"s":"16","p":0.889,"m":0.005},{"s":"16","p":0.891,"m":0.010},{"s":"16","p":0.897,"m":0.003},
{"s":"16","p":0.903,"m":0.009},{"s":"16","p":0.905,"m":0.002},{"s":"16","p":0.914,"m":0.006},{"s":"16","p":0.916,"m":0.003},{"s":"16","p":0.922,"m":0.010},{"s":"16","p":0.928,"m":-0.001},{"s":"16","p":0.930,"m":0.006},{"s":"16","p":0.939,"m":0.003},{"s":"16","p":0.941,"m":0.008},{"s":"16","p":0.947,"m":0.000},
{"s":"16","p":0.953,"m":0.006},{"s":"16","p":0.955,"m":-0.001},{"s":"16","p":0.964,"m":0.003},{"s":"16","p":0.966,"m":0.000},{"s":"16","p":0.972,"m":0.007},{"s":"16","p":0.978,"m":-0.004},{"s":"16","p":0.980,"m":0.003},{"s":"16","p":0.989,"m":0.000},{"s":"16","p":0.991,"m":0.005},{"s":"16","p":0.995,"m":-0.003},{"s":"16","p":0.999,"m":0.003},
{"s":"16","p":0.293,"m":-0.064},{"s":"16","p":0.295,"m":-0.032},{"s":"16","p":0.617,"m":-0.068},{"s":"16","p":0.620,"m":-0.031},{"s":"16","p":0.984,"m":-0.017},{"s":"16","p":0.847,"m":-0.003},{"s":"16","p":0.283,"m":-0.021},{"s":"16","p":0.410,"m":-0.019},
{"s":"16","p":0.003,"m":-0.002},{"s":"16","p":0.0065,"m":0.005},{"s":"16","p":0.014,"m":-0.007},{"s":"16","p":0.0175,"m":-0.001},{"s":"16","p":0.022,"m":0.002},{"s":"16","p":0.028,"m":-0.005},{"s":"16","p":0.0315,"m":0.005},{"s":"16","p":0.039,"m":-0.003},{"s":"16","p":0.0425,"m":0.000},{"s":"16","p":0.047,"m":-0.005},
{"s":"16","p":0.053,"m":-0.004},{"s":"16","p":0.0565,"m":0.003},{"s":"16","p":0.064,"m":-0.009},{"s":"16","p":0.0675,"m":-0.003},{"s":"16","p":0.072,"m":0.000},{"s":"16","p":0.078,"m":-0.007},{"s":"16","p":0.0815,"m":0.003},{"s":"16","p":0.089,"m":-0.005},{"s":"16","p":0.0925,"m":-0.002},{"s":"16","p":0.097,"m":-0.007},
{"s":"16","p":0.103,"m":-0.006},{"s":"16","p":0.1065,"m":0.001},{"s":"16","p":0.114,"m":-0.011},{"s":"16","p":0.1175,"m":-0.005},{"s":"16","p":0.122,"m":-0.002},{"s":"16","p":0.128,"m":-0.009},{"s":"16","p":0.1315,"m":0.001},{"s":"16","p":0.139,"m":-0.007},{"s":"16","p":0.1425,"m":-0.004},{"s":"16","p":0.147,"m":-0.009},
{"s":"16","p":0.153,"m":-0.008},{"s":"16","p":0.1565,"m":-0.001},{"s":"16","p":0.164,"m":-0.012},{"s":"16","p":0.1675,"m":-0.007},{"s":"16","p":0.172,"m":-0.004},{"s":"16","p":0.178,"m":-0.011},{"s":"16","p":0.1815,"m":-0.001},{"s":"16","p":0.189,"m":-0.008},{"s":"16","p":0.1925,"m":-0.005},{"s":"16","p":0.197,"m":-0.010},
{"s":"16","p":0.203,"m":-0.010},{"s":"16","p":0.2065,"m":-0.003},{"s":"16","p":0.214,"m":-0.014},{"s":"16","p":0.2175,"m":-0.008},{"s":"16","p":0.222,"m":-0.005},{"s":"16","p":0.228,"m":-0.012},{"s":"16","p":0.2315,"m":-0.002},{"s":"16","p":0.239,"m":-0.010},{"s":"16","p":0.2425,"m":-0.007},{"s":"16","p":0.247,"m":-0.012},
{"s":"16","p":0.253,"m":-0.011},{"s":"16","p":0.2565,"m":-0.004},{"s":"16","p":0.264,"m":-0.016},{"s":"16","p":0.2675,"m":-0.010},{"s":"16","p":0.272,"m":-0.007},{"s":"16","p":0.278,"m":-0.014},{"s":"16","p":0.2815,"m":-0.004},{"s":"16","p":0.289,"m":-0.012},{"s":"16","p":0.2925,"m":-0.009},{"s":"16","p":0.297,"m":-0.014},
{"s":"16","p":0.303,"m":-0.013},{"s":"16","p":0.3065,"m":-0.006},{"s":"16","p":0.314,"m":-0.017},{"s":"16","p":0.3175,"m":-0.011},{"s":"16","p":0.322,"m":-0.009},{"s":"16","p":0.328,"m":-0.016},{"s":"16","p":0.3315,"m":-0.006},{"s":"16","p":0.339,"m":-0.013},{"s":"16","p":0.3425,"m":-0.010},{"s":"16","p":0.347,"m":-0.015},
{"s":"16","p":0.353,"m":-0.014},{"s":"16","p":0.3565,"m":-0.007},{"s":"16","p":0.364,"m":-0.018},{"s":"16","p":0.3675,"m":-0.012},{"s":"16","p":0.372,"m":-0.009},{"s":"16","p":0.378,"m":-0.016},{"s":"16","p":0.3815,"m":-0.006},{"s":"16","p":0.389,"m":-0.013},{"s":"16","p":0.3925,"m":-0.010},{"s":"16","p":0.397,"m":-0.015},
{"s":"16","p":0.403,"m":-0.014},{"s":"16","p":0.4065,"m":-0.007},{"s":"16","p":0.414,"m":-0.018},{"s":"16","p":0.4175,"m":-0.012},{"s":"16","p":0.422,"m":-0.009},{"s":"16","p":0.428,"m":-0.015},{"s":"16","p":0.4315,"m":-0.005},{"s":"16","p":0.439,"m":-0.012},{"s":"16","p":0.4425,"m":-0.009},{"s":"16","p":0.447,"m":-0.014},
{"s":"16","p":0.453,"m":-0.013},{"s":"16","p":0.4565,"m":-0.006},{"s":"16","p":0.464,"m":-0.016},{"s":"16","p":0.4675,"m":-0.010},{"s":"16","p":0.472,"m":-0.007},{"s":"16","p":0.478,"m":-0.013},{"s":"16","p":0.4815,"m":-0.003},{"s":"16","p":0.489,"m":-0.010},{"s":"16","p":0.4925,"m":-0.006},{"s":"16","p":0.497,"m":-0.011},
{"s":"16","p":0.503,"m":-0.010},{"s":"16","p":0.5065,"m":-0.003},{"s":"16","p":0.514,"m":-0.013},{"s":"16","p":0.5175,"m":-0.007},{"s":"16","p":0.522,"m":-0.004},{"s":"16","p":0.528,"m":-0.010},{"s":"16","p":0.5315,"m":0.000},{"s":"16","p":0.539,"m":-0.007},{"s":"16","p":0.5425,"m":-0.003},{"s":"16","p":0.547,"m":-0.008},
{"s":"16","p":0.553,"m":-0.007},{"s":"16","p":0.5565,"m":0.000},{"s":"16","p":0.564,"m":-0.010},{"s":"16","p":0.5675,"m":-0.004},{"s":"16","p":0.572,"m":-0.001},{"s":"16","p":0.578,"m":-0.007},{"s":"16","p":0.5815,"m":0.003},{"s":"16","p":0.589,"m":-0.004},{"s":"16","p":0.5925,"m":-0.001},{"s":"16","p":0.597,"m":-0.005},
{"s":"16","p":0.603,"m":-0.004},{"s":"16","p":0.6065,"m":0.004},{"s":"16","p":0.614,"m":-0.007},{"s":"16","p":0.6175,"m":0.000},{"s":"16","p":0.622,"m":0.003},{"s":"16","p":0.628,"m":-0.003},{"s":"16","p":0.6315,"m":0.007},{"s":"16","p":0.639,"m":0.001},{"s":"16","p":0.6425,"m":0.004},{"s":"16","p":0.647,"m":0.000},
{"s":"16","p":0.653,"m":0.001},{"s":"16","p":0.6565,"m":0.009},{"s":"16","p":0.664,"m":-0.002},{"s":"16","p":0.6675,"m":0.004},{"s":"16","p":0.672,"m":0.008},{"s":"16","p":0.678,"m":0.001},{"s":"16","p":0.6815,"m":0.012},{"s":"16","p":0.689,"m":0.005},{"s":"16","p":0.6925,"m":0.008},{"s":"16","p":0.697,"m":0.004},
{"s":"16","p":0.703,"m":0.005},{"s":"16","p":0.7065,"m":0.012},{"s":"16","p":0.714,"m":0.002},{"s":"16","p":0.7175,"m":0.008},{"s":"16","p":0.722,"m":0.011},{"s":"16","p":0.728,"m":0.004},{"s":"16","p":0.7315,"m":0.014},{"s":"16","p":0.739,"m":0.008},{"s":"16","p":0.7425,"m":0.011},{"s":"16","p":0.747,"m":0.006},
{"s":"16","p":0.753,"m":0.007},{"s":"16","p":0.7565,"m":0.014},{"s":"16","p":0.764,"m":0.003},{"s":"16","p":0.7675,"m":0.009},{"s":"16","p":0.772,"m":0.012},{"s":"16","p":0.778,"m":0.005},{"s":"16","p":0.7815,"m":0.015},{"s":"16","p":0.789,"m":0.008},{"s":"16","p":0.7925,"m":0.011},{"s":"16","p":0.797,"m":0.006},
{"s":"16","p":0.803,"m":0.007},{"s":"16","p":0.8065,"m":0.014},{"s":"16","p":0.814,"m":0.003},{"s":"16","p":0.8175,"m":0.009},{"s":"16","p":0.822,"m":0.012},{"s":"16","p":0.828,"m":0.004},{"s":"16","p":0.8315,"m":0.014},{"s":"16","p":0.839,"m":0.007},{"s":"16","p":0.8425,"m":0.010},{"s":"16","p":0.847,"m":0.005},
{"s":"16","p":0.853,"m":0.006},{"s":"16","p":0.8565,"m":0.013},{"s":"16","p":0.864,"m":0.001},{"s":"16","p":0.8675,"m":0.007},{"s":"16","p":0.872,"m":0.010},{"s":"16","p":0.878,"m":0.003},{"s":"16","p":0.8815,"m":0.013},{"s":"16","p":0.889,"m":0.005},{"s":"16","p":0.8925,"m":0.008},{"s":"16","p":0.897,"m":0.003},
{"s":"16","p":0.903,"m":0.004},{"s":"16","p":0.9065,"m":0.011},{"s":"16","p":0.914,"m":-0.001},{"s":"16","p":0.9175,"m":0.005},{"s":"16","p":0.922,"m":0.008},{"s":"16","p":0.928,"m":0.000},{"s":"16","p":0.9315,"m":0.010},{"s":"16","p":0.939,"m":0.003},{"s":"16","p":0.9425,"m":0.005},{"s":"16","p":0.947,"m":0.000},
{"s":"16","p":0.953,"m":0.001},{"s":"16","p":0.9565,"m":0.008},{"s":"16","p":0.964,"m":-0.004},{"s":"16","p":0.9675,"m":0.002},{"s":"16","p":0.972,"m":0.005},{"s":"16","p":0.978,"m":-0.003},{"s":"16","p":0.9815,"m":0.007},{"s":"16","p":0.989,"m":0.000},{"s":"16","p":0.9925,"m":0.002},{"s":"16","p":0.997,"m":-0.003},
{"s":"22","p":0.001,"m":0.012},{"s":"22","p":0.007,"m":0.025},{"s":"22","p":0.008,"m":0.018},{"s":"22","p":0.014,"m":0.028},{"s":"22","p":0.017,"m":0.013},{"s":"22","p":0.023,"m":0.020},{"s":"22","p":0.024,"m":0.031},{"s":"22","p":0.028,"m":0.011},{"s":"22","p":0.033,"m":0.023},{"s":"22","p":0.039,"m":0.013},
{"s":"22","p":0.040,"m":0.019},{"s":"22","p":0.046,"m":0.015},{"s":"22","p":0.049,"m":0.026},{"s":"22","p":0.055,"m":0.002},{"s":"22","p":0.057,"m":0.021},{"s":"22","p":0.061,"m":0.003},{"s":"22","p":0.067,"m":0.016},{"s":"22","p":0.068,"m":0.010},{"s":"22","p":0.073,"m":0.018},{"s":"22","p":0.079,"m":0.003},
{"s":"22","p":0.083,"m":0.009},{"s":"22","p":0.084,"m":0.020},{"s":"22","p":0.089,"m":0.000},{"s":"22","p":0.093,"m":0.011},{"s":"22","p":0.097,"m":0.002},{"s":"22","p":0.103,"m":0.006},{"s":"22","p":0.104,"m":0.003},{"s":"22","p":0.109,"m":0.012},{"s":"22","p":0.113,"m":-0.011},{"s":"22","p":0.117,"m":0.006},
{"s":"22","p":0.121,"m":-0.011},{"s":"22","p":0.127,"m":0.001},{"s":"22","p":0.128,"m":-0.006},{"s":"22","p":0.133,"m":0.003},{"s":"22","p":0.137,"m":-0.012},{"s":"22","p":0.141,"m":-0.007},{"s":"22","p":0.145,"m":0.004},{"s":"22","p":0.149,"m":-0.018},{"s":"22","p":0.153,"m":-0.005},{"s":"22","p":0.157,"m":-0.016},
{"s":"22","p":0.161,"m":-0.011},{"s":"22","p":0.165,"m":-0.016},{"s":"22","p":0.169,"m":-0.005},{"s":"22","p":0.173,"m":-0.031},{"s":"22","p":0.177,"m":-0.011},{"s":"22","p":0.181,"m":-0.031},{"s":"22","p":0.187,"m":-0.016},{"s":"22","p":0.188,"m":-0.025},{"s":"22","p":0.193,"m":-0.013},{"s":"22","p":0.197,"m":-0.032},
{"s":"22","p":0.201,"m":-0.025},{"s":"22","p":0.205,"m":-0.012},{"s":"22","p":0.208,"m":-0.037},{"s":"22","p":0.213,"m":-0.023},{"s":"22","p":0.217,"m":-0.035},{"s":"22","p":0.221,"m":-0.029},{"s":"22","p":0.225,"m":-0.034},{"s":"22","p":0.229,"m":-0.022},{"s":"22","p":0.233,"m":-0.051},{"s":"22","p":0.237,"m":-0.028},
{"s":"22","p":0.241,"m":-0.050},{"s":"22","p":0.247,"m":-0.034},{"s":"22","p":0.248,"m":-0.043},{"s":"22","p":0.253,"m":-0.031},{"s":"22","p":0.257,"m":-0.049},{"s":"22","p":0.261,"m":-0.041},{"s":"22","p":0.264,"m":-0.028},{"s":"22","p":0.269,"m":-0.052},{"s":"22","p":0.273,"m":-0.037},{"s":"22","p":0.277,"m":-0.048},
{"s":"22","p":0.281,"m":-0.042},{"s":"22","p":0.285,"m":-0.046},{"s":"22","p":0.289,"m":-0.035},{"s":"22","p":0.293,"m":-0.060},{"s":"22","p":0.297,"m":-0.040},{"s":"22","p":0.301,"m":-0.058},{"s":"22","p":0.305,"m":-0.043},{"s":"22","p":0.308,"m":-0.050},{"s":"22","p":0.313,"m":-0.039},{"s":"22","p":0.317,"m":-0.055},
{"s":"22","p":0.321,"m":-0.048},{"s":"22","p":0.325,"m":-0.036},{"s":"22","p":0.328,"m":-0.057},{"s":"22","p":0.333,"m":-0.043},{"s":"22","p":0.337,"m":-0.053},{"s":"22","p":0.341,"m":-0.047},{"s":"22","p":0.345,"m":-0.051},{"s":"22","p":0.349,"m":-0.039},{"s":"22","p":0.352,"m":-0.064},{"s":"22","p":0.357,"m":-0.043},
{"s":"22","p":0.361,"m":-0.061},{"s":"22","p":0.365,"m":-0.045},{"s":"22","p":0.368,"m":-0.052},{"s":"22","p":0.373,"m":-0.041},{"s":"22","p":0.377,"m":-0.056},{"s":"22","p":0.381,"m":-0.048},{"s":"22","p":0.384,"m":-0.036},{"s":"22","p":0.389,"m":-0.057},{"s":"22","p":0.393,"m":-0.043},{"s":"22","p":0.397,"m":-0.052},
{"s":"22","p":0.401,"m":-0.046},{"s":"22","p":0.405,"m":-0.049},{"s":"22","p":0.408,"m":-0.036},{"s":"22","p":0.413,"m":-0.061},{"s":"22","p":0.417,"m":-0.038},{"s":"22","p":0.421,"m":-0.057},{"s":"22","p":0.425,"m":-0.040},{"s":"22","p":0.429,"m":-0.047},{"s":"22","p":0.433,"m":-0.034},{"s":"22","p":0.437,"m":-0.050},
{"s":"22","p":0.441,"m":-0.042},{"s":"22","p":0.445,"m":-0.028},{"s":"22","p":0.448,"m":-0.050},{"s":"22","p":0.453,"m":-0.034},{"s":"22","p":0.457,"m":-0.044},{"s":"22","p":0.461,"m":-0.036},{"s":"22","p":0.465,"m":-0.039},{"s":"22","p":0.469,"m":-0.026},{"s":"22","p":0.473,"m":-0.050},{"s":"22","p":0.477,"m":-0.028},
{"s":"22","p":0.481,"m":-0.046},{"s":"22","p":0.485,"m":-0.029},{"s":"22","p":0.488,"m":-0.035},{"s":"22","p":0.493,"m":-0.023},{"s":"22","p":0.497,"m":-0.038},{"s":"22","p":0.501,"m":-0.029},{"s":"22","p":0.505,"m":-0.016},{"s":"22","p":0.508,"m":-0.037},{"s":"22","p":0.513,"m":-0.021},{"s":"22","p":0.517,"m":-0.030},
{"s":"22","p":0.521,"m":-0.023},{"s":"22","p":0.525,"m":-0.026},{"s":"22","p":0.528,"m":-0.013},{"s":"22","p":0.533,"m":-0.036},{"s":"22","p":0.537,"m":-0.015},{"s":"22","p":0.541,"m":-0.031},{"s":"22","p":0.545,"m":-0.016},{"s":"22","p":0.548,"m":-0.022},{"s":"22","p":0.553,"m":-0.010},{"s":"22","p":0.557,"m":-0.024},
{"s":"22","p":0.561,"m":-0.016},{"s":"22","p":0.565,"m":-0.003},{"s":"22","p":0.568,"m":-0.022},{"s":"22","p":0.573,"m":-0.008},{"s":"22","p":0.577,"m":-0.016},{"s":"22","p":0.581,"m":-0.009},{"s":"22","p":0.585,"m":-0.011},{"s":"22","p":0.589,"m":0.001},{"s":"22","p":0.592,"m":-0.021},{"s":"22","p":0.597,"m":-0.001},
{"s":"22","p":0.601,"m":-0.015},{"s":"22","p":0.605,"m":-0.001},{"s":"22","p":0.608,"m":-0.007},{"s":"22","p":0.613,"m":0.004},{"s":"22","p":0.617,"m":-0.008},{"s":"22","p":0.621,"m":-0.001},{"s":"22","p":0.625,"m":0.011},{"s":"22","p":0.629,"m":-0.007},{"s":"22","p":0.632,"m":0.006},{"s":"22","p":0.637,"m":-0.002},
{"s":"22","p":0.641,"m":0.005},{"s":"22","p":0.645,"m":0.003},{"s":"22","p":0.648,"m":0.014},{"s":"22","p":0.653,"m":-0.008},{"s":"22","p":0.657,"m":0.013},{"s":"22","p":0.661,"m":-0.004},{"s":"22","p":0.665,"m":0.011},{"s":"22","p":0.668,"m":0.005},{"s":"22","p":0.673,"m":0.016},{"s":"22","p":0.677,"m":0.002},
{"s":"22","p":0.681,"m":0.010},{"s":"22","p":0.685,"m":0.022},{"s":"22","p":0.688,"m":0.002},{"s":"22","p":0.693,"m":0.016},{"s":"22","p":0.697,"m":0.008},{"s":"22","p":0.701,"m":0.014},{"s":"22","p":0.705,"m":0.011},{"s":"22","p":0.708,"m":0.023},{"s":"22","p":0.713,"m":0.001},{"s":"22","p":0.717,"m":0.022},
{"s":"22","p":0.721,"m":0.004},{"s":"22","p":0.725,"m":0.020},{"s":"22","p":0.728,"m":0.014},{"s":"22","p":0.733,"m":0.026},{"s":"22","p":0.737,"m":0.011},{"s":"22","p":0.741,"m":0.019},{"s":"22","p":0.745,"m":0.032},{"s":"22","p":0.748,"m":0.011},{"s":"22","p":0.753,"m":0.026},{"s":"22","p":0.757,"m":0.017},
{"s":"22","p":0.761,"m":0.024},{"s":"22","p":0.765,"m":0.021},{"s":"22","p":0.768,"m":0.034},{"s":"22","p":0.773,"m":0.010},{"s":"22","p":0.777,"m":0.032},{"s":"22","p":0.781,"m":0.014},{"s":"22","p":0.785,"m":0.031},{"s":"22","p":0.788,"m":0.024},{"s":"22","p":0.793,"m":0.037},{"s":"22","p":0.797,"m":0.021},
{"s":"22","p":0.801,"m":0.030},{"s":"22","p":0.805,"m":0.043},{"s":"22","p":0.808,"m":0.021},{"s":"22","p":0.813,"m":0.037},{"s":"22","p":0.817,"m":0.027},{"s":"22","p":0.821,"m":0.034},{"s":"22","p":0.825,"m":0.031},{"s":"22","p":0.828,"m":0.042},{"s":"22","p":0.833,"m":0.019},{"s":"22","p":0.837,"m":0.040},
{"s":"22","p":0.841,"m":0.025},{"s":"22","p":0.845,"m":0.039},{"s":"22","p":0.848,"m":0.033},{"s":"22","p":0.853,"m":0.043},{"s":"22","p":0.857,"m":0.030},{"s":"22","p":0.861,"m":0.037},{"s":"22","p":0.865,"m":0.048},{"s":"22","p":0.868,"m":0.030},{"s":"22","p":0.873,"m":0.042},{"s":"22","p":0.877,"m":0.034},
{"s":"22","p":0.881,"m":0.040},{"s":"22","p":0.885,"m":0.037},{"s":"22","p":0.888,"m":0.047},{"s":"22","p":0.893,"m":0.027},{"s":"22","p":0.897,"m":0.045},{"s":"22","p":0.901,"m":0.029},{"s":"22","p":0.905,"m":0.042},{"s":"22","p":0.908,"m":0.036},{"s":"22","p":0.913,"m":0.045},{"s":"22","p":0.917,"m":0.032},
{"s":"22","p":0.921,"m":0.038},{"s":"22","p":0.925,"m":0.048},{"s":"22","p":0.928,"m":0.030},{"s":"22","p":0.933,"m":0.041},{"s":"22","p":0.937,"m":0.032},{"s":"22","p":0.941,"m":0.038},{"s":"22","p":0.945,"m":0.034},{"s":"22","p":0.948,"m":0.044},{"s":"22","p":0.953,"m":0.023},{"s":"22","p":0.957,"m":0.040},
{"s":"22","p":0.961,"m":0.023},{"s":"22","p":0.965,"m":0.036},{"s":"22","p":0.968,"m":0.029},{"s":"22","p":0.973,"m":0.038},{"s":"22","p":0.977,"m":0.024},{"s":"22","p":0.981,"m":0.030},{"s":"22","p":0.985,"m":0.040},{"s":"22","p":0.988,"m":0.020},{"s":"22","p":0.993,"m":0.033},{"s":"22","p":0.997,"m":0.023},{"s":"22","p":1.000,"m":0.028},
{"s":"22","p":0.763,"m":-0.065},{"s":"22","p":0.770,"m":-0.027},{"s":"22","p":0.780,"m":-0.008},{"s":"22","p":0.785,"m":-0.003},{"s":"22","p":0.609,"m":-0.030},{"s":"22","p":0.330,"m":-0.074},{"s":"22","p":0.345,"m":-0.072},{"s":"22","p":0.370,"m":-0.068},{"s":"22","p":0.410,"m":-0.068},{"s":"22","p":0.380,"m":-0.066},
{"s":"22","p":0.824,"m":0.052},{"s":"22","p":0.880,"m":0.053},{"s":"22","p":0.870,"m":0.050},{"s":"22","p":0.002,"m":0.034},{"s":"22","p":0.005,"m":0.035},{"s":"22","p":0.020,"m":0.030},{"s":"22","p":0.165,"m":-0.029},{"s":"22","p":0.170,"m":-0.035},{"s":"22","p":0.235,"m":-0.062},{"s":"22","p":0.255,"m":-0.062},
{"s":"22","p":0.164,"m":-0.049},{"s":"22","p":0.109,"m":-0.027},{"s":"22","p":0.120,"m":-0.025},{"s":"22","p":0.005,"m":0.005},{"s":"22","p":0.030,"m":0.008},{"s":"22","p":0.480,"m":-0.055},{"s":"22","p":0.500,"m":-0.050},
{"s":"22","p":0.002,"m":0.028},{"s":"22","p":0.0075,"m":0.013},{"s":"22","p":0.009,"m":0.022},{"s":"22","p":0.013,"m":0.031},{"s":"22","p":0.018,"m":0.015},{"s":"22","p":0.0215,"m":0.008},{"s":"22","p":0.025,"m":0.022},{"s":"22","p":0.029,"m":0.016},{"s":"22","p":0.034,"m":0.026},{"s":"22","p":0.0375,"m":0.011},
{"s":"22","p":0.041,"m":0.017},{"s":"22","p":0.045,"m":0.021},{"s":"22","p":0.050,"m":0.006},{"s":"22","p":0.054,"m":0.021},{"s":"22","p":0.0575,"m":0.006},{"s":"22","p":0.061,"m":0.015},{"s":"22","p":0.066,"m":0.023},{"s":"22","p":0.0695,"m":0.007},{"s":"22","p":0.073,"m":-0.001},{"s":"22","p":0.077,"m":0.013},
{"s":"22","p":0.082,"m":0.007},{"s":"22","p":0.0855,"m":0.016},{"s":"22","p":0.089,"m":0.001},{"s":"22","p":0.093,"m":0.007},{"s":"22","p":0.098,"m":0.010},{"s":"22","p":0.1015,"m":-0.004},{"s":"22","p":0.105,"m":0.009},{"s":"22","p":0.109,"m":-0.006},{"s":"22","p":0.114,"m":0.002},{"s":"22","p":0.1175,"m":0.010},
{"s":"22","p":0.121,"m":-0.006},{"s":"22","p":0.125,"m":-0.014},{"s":"22","p":0.130,"m":-0.001},{"s":"22","p":0.1335,"m":-0.007},{"s":"22","p":0.137,"m":0.002},{"s":"22","p":0.141,"m":-0.014},{"s":"22","p":0.146,"m":-0.009},{"s":"22","p":0.1495,"m":-0.005},{"s":"22","p":0.153,"m":-0.022},{"s":"22","p":0.157,"m":-0.006},
{"s":"22","p":0.162,"m":-0.023},{"s":"22","p":0.1655,"m":-0.013},{"s":"22","p":0.169,"m":-0.003},{"s":"22","p":0.173,"m":-0.022},{"s":"22","p":0.178,"m":-0.032},{"s":"22","p":0.1815,"m":-0.016},{"s":"22","p":0.185,"m":-0.023},{"s":"22","p":0.189,"m":-0.011},{"s":"22","p":0.194,"m":-0.031},{"s":"22","p":0.1975,"m":-0.024},
{"s":"22","p":0.201,"m":-0.020},{"s":"22","p":0.205,"m":-0.039},{"s":"22","p":0.210,"m":-0.021},{"s":"22","p":0.2135,"m":-0.040},{"s":"22","p":0.217,"m":-0.029},{"s":"22","p":0.221,"m":-0.018},{"s":"22","p":0.226,"m":-0.038},{"s":"22","p":0.2295,"m":-0.048},{"s":"22","p":0.233,"m":-0.031},{"s":"22","p":0.237,"m":-0.039},
{"s":"22","p":0.242,"m":-0.027},{"s":"22","p":0.2455,"m":-0.047},{"s":"22","p":0.249,"m":-0.040},{"s":"22","p":0.253,"m":-0.035},{"s":"22","p":0.258,"m":-0.053},{"s":"22","p":0.2615,"m":-0.034},{"s":"22","p":0.265,"m":-0.053},{"s":"22","p":0.269,"m":-0.041},{"s":"22","p":0.274,"m":-0.031},{"s":"22","p":0.2775,"m":-0.049},
{"s":"22","p":0.281,"m":-0.057},{"s":"22","p":0.285,"m":-0.041},{"s":"22","p":0.290,"m":-0.048},{"s":"22","p":0.2935,"m":-0.037},{"s":"22","p":0.297,"m":-0.054},{"s":"22","p":0.301,"m":-0.047},{"s":"22","p":0.306,"m":-0.042},{"s":"22","p":0.3095,"m":-0.058},{"s":"22","p":0.313,"m":-0.041},{"s":"22","p":0.317,"m":-0.057},
{"s":"22","p":0.322,"m":-0.047},{"s":"22","p":0.3255,"m":-0.037},{"s":"22","p":0.329,"m":-0.054},{"s":"22","p":0.333,"m":-0.062},{"s":"22","p":0.338,"m":-0.046},{"s":"22","p":0.3415,"m":-0.052},{"s":"22","p":0.345,"m":-0.041},{"s":"22","p":0.349,"m":-0.057},{"s":"22","p":0.354,"m":-0.050},{"s":"22","p":0.3575,"m":-0.045},
{"s":"22","p":0.361,"m":-0.060},{"s":"22","p":0.365,"m":-0.043},{"s":"22","p":0.370,"m":-0.058},{"s":"22","p":0.3735,"m":-0.048},{"s":"22","p":0.377,"m":-0.037},{"s":"22","p":0.381,"m":-0.054},{"s":"22","p":0.386,"m":-0.062},{"s":"22","p":0.3895,"m":-0.045},{"s":"22","p":0.393,"m":-0.050},{"s":"22","p":0.397,"m":-0.039},
{"s":"22","p":0.402,"m":-0.055},{"s":"22","p":0.4055,"m":-0.047},{"s":"22","p":0.409,"m":-0.042},{"s":"22","p":0.413,"m":-0.058},{"s":"22","p":0.418,"m":-0.039},{"s":"22","p":0.4215,"m":-0.055},{"s":"22","p":0.425,"m":-0.043},{"s":"22","p":0.429,"m":-0.031},{"s":"22","p":0.434,"m":-0.048},{"s":"22","p":0.4375,"m":-0.056},
{"s":"22","p":0.441,"m":-0.039},{"s":"22","p":0.445,"m":-0.044},{"s":"22","p":0.450,"m":-0.031},{"s":"22","p":0.4535,"m":-0.048},{"s":"22","p":0.457,"m":-0.040},{"s":"22","p":0.461,"m":-0.033},{"s":"22","p":0.466,"m":-0.049},{"s":"22","p":0.4695,"m":-0.030},{"s":"22","p":0.473,"m":-0.046},{"s":"22","p":0.477,"m":-0.034},
{"s":"22","p":0.482,"m":-0.022},{"s":"22","p":0.4855,"m":-0.038},{"s":"22","p":0.489,"m":-0.045},{"s":"22","p":0.493,"m":-0.028},{"s":"22","p":0.498,"m":-0.033},{"s":"22","p":0.5015,"m":-0.021},{"s":"22","p":0.505,"m":-0.036},{"s":"22","p":0.509,"m":-0.028},{"s":"22","p":0.514,"m":-0.022},{"s":"22","p":0.5175,"m":-0.037},
{"s":"22","p":0.521,"m":-0.019},{"s":"22","p":0.525,"m":-0.033},{"s":"22","p":0.530,"m":-0.022},{"s":"22","p":0.5335,"m":-0.012},{"s":"22","p":0.537,"m":-0.026},{"s":"22","p":0.541,"m":-0.033},{"s":"22","p":0.546,"m":-0.017},{"s":"22","p":0.5495,"m":-0.021},{"s":"22","p":0.553,"m":-0.010},{"s":"22","p":0.557,"m":-0.024},
{"s":"22","p":0.562,"m":-0.016},{"s":"22","p":0.5655,"m":-0.011},{"s":"22","p":0.569,"m":-0.023},{"s":"22","p":0.573,"m":-0.008},{"s":"22","p":0.578,"m":-0.020},{"s":"22","p":0.5815,"m":-0.010},{"s":"22","p":0.585,"m":0.000},{"s":"22","p":0.589,"m":-0.013},{"s":"22","p":0.594,"m":-0.018},{"s":"22","p":0.5975,"m":-0.004},
{"s":"22","p":0.601,"m":-0.008},{"s":"22","p":0.605,"m":0.003},{"s":"22","p":0.610,"m":-0.009},{"s":"22","p":0.6135,"m":-0.003},{"s":"22","p":0.617,"m":0.003},{"s":"22","p":0.621,"m":-0.010},{"s":"22","p":0.626,"m":0.007},{"s":"22","p":0.6295,"m":-0.007},{"s":"22","p":0.633,"m":0.004},{"s":"22","p":0.637,"m":0.015},
{"s":"22","p":0.642,"m":-0.001},{"s":"22","p":0.6455,"m":-0.007},{"s":"22","p":0.649,"m":0.008},{"s":"22","p":0.653,"m":0.003},{"s":"22","p":0.658,"m":0.015},{"s":"22","p":0.6615,"m":0.000},{"s":"22","p":0.665,"m":0.007},{"s":"22","p":0.669,"m":0.012},{"s":"22","p":0.674,"m":-0.001},{"s":"22","p":0.6775,"m":0.015},
{"s":"22","p":0.681,"m":0.001},{"s":"22","p":0.685,"m":0.011},{"s":"22","p":0.690,"m":0.022},{"s":"22","p":0.6935,"m":0.007},{"s":"22","p":0.697,"m":0.000},{"s":"22","p":0.701,"m":0.015},{"s":"22","p":0.706,"m":0.011},{"s":"22","p":0.7095,"m":0.022},{"s":"22","p":0.713,"m":0.008},{"s":"22","p":0.717,"m":0.015},
{"s":"22","p":0.722,"m":0.020},{"s":"22","p":0.7255,"m":0.006},{"s":"22","p":0.729,"m":0.023},{"s":"22","p":0.733,"m":0.008},{"s":"22","p":0.738,"m":0.020},{"s":"22","p":0.7415,"m":0.031},{"s":"22","p":0.745,"m":0.014},{"s":"22","p":0.749,"m":0.007},{"s":"22","p":0.754,"m":0.024},{"s":"22","p":0.7575,"m":0.019},
{"s":"22","p":0.761,"m":0.031},{"s":"22","p":0.765,"m":0.015},{"s":"22","p":0.770,"m":0.024},{"s":"22","p":0.7735,"m":0.029},{"s":"22","p":0.777,"m":0.014},{"s":"22","p":0.781,"m":0.032},{"s":"22","p":0.786,"m":0.017},{"s":"22","p":0.7895,"m":0.029},{"s":"22","p":0.793,"m":0.040},{"s":"22","p":0.797,"m":0.023},
{"s":"22","p":0.802,"m":0.016},{"s":"22","p":0.8055,"m":0.034},{"s":"22","p":0.809,"m":0.028},{"s":"22","p":0.813,"m":0.041},{"s":"22","p":0.818,"m":0.024},{"s":"22","p":0.8215,"m":0.032},{"s":"22","p":0.825,"m":0.038},{"s":"22","p":0.829,"m":0.022},{"s":"22","p":0.834,"m":0.041},{"s":"22","p":0.8375,"m":0.026},
{"s":"22","p":0.841,"m":0.036},{"s":"22","p":0.845,"m":0.046},{"s":"22","p":0.850,"m":0.032},{"s":"22","p":0.8535,"m":0.025},{"s":"22","p":0.857,"m":0.039},{"s":"22","p":0.861,"m":0.035},{"s":"22","p":0.866,"m":0.045},{"s":"22","p":0.8695,"m":0.031},{"s":"22","p":0.873,"m":0.037},{"s":"22","p":0.877,"m":0.042},
{"s":"22","p":0.882,"m":0.029},{"s":"22","p":0.8855,"m":0.044},{"s":"22","p":0.889,"m":0.030},{"s":"22","p":0.893,"m":0.040},{"s":"22","p":0.898,"m":0.049},{"s":"22","p":0.9015,"m":0.035},{"s":"22","p":0.905,"m":0.028},{"s":"22","p":0.909,"m":0.041},{"s":"22","p":0.914,"m":0.036},{"s":"22","p":0.9175,"m":0.045},
{"s":"22","p":0.921,"m":0.031},{"s":"22","p":0.925,"m":0.037},{"s":"22","p":0.930,"m":0.041},{"s":"22","p":0.9335,"m":0.027},{"s":"22","p":0.937,"m":0.041},{"s":"22","p":0.941,"m":0.028},{"s":"22","p":0.946,"m":0.036},{"s":"22","p":0.9495,"m":0.045},{"s":"22","p":0.953,"m":0.030},{"s":"22","p":0.957,"m":0.023},
{"s":"22","p":0.962,"m":0.036},{"s":"22","p":0.9655,"m":0.030},{"s":"22","p":0.969,"m":0.040},{"s":"22","p":0.973,"m":0.024},{"s":"22","p":0.978,"m":0.030},{"s":"22","p":0.9815,"m":0.034},{"s":"22","p":0.985,"m":0.019},{"s":"22","p":0.989,"m":0.034},{"s":"22","p":0.994,"m":0.018},{"s":"22","p":0.9975,"m":0.028}
 ]},
 "layer":[
  {"mark":{"type":"circle","size":13,"opacity":1},
   "encoding":{
    "x":{"field":"p","type":"quantitative","scale":{"domain":[-0.05,1.05],"nice":false,"zero":false},"axis":{"orient":"bottom","values":[0,0.2,0.4,0.6,0.8,1.0],"format":".1f","tickSize":-7,"labelPadding":13,"title":"Phase","titlePadding":1,"titleFontSize":17}},
    "y":{"field":"m","type":"quantitative","scale":{"domain":[-0.08,0.06],"reverse":true,"nice":false,"zero":false},"axis":{"orient":"left","values":[-0.08,-0.06,-0.04,-0.02,0,0.02,0.04,0.06],"format":".2f","tickSize":-7,"labelPadding":13,"title":"Δ𝑚 [mag]","titlePadding":1}},
    "color":{"field":"s","type":"nominal","scale":{"domain":["15","16","22"],"range":["#1f77b4","#ff7f0e","#2ca02c"]},"legend":null}
   }},
  {"mark":{"type":"point","opacity":0},
   "encoding":{
    "x":{"field":"p","type":"quantitative","axis":{"orient":"bottom","values":[0.05,0.1,0.15,0.25,0.3,0.35,0.45,0.5,0.55,0.65,0.7,0.75,0.85,0.9,0.95],"labels":false,"tickSize":-3.5,"title":null}},
    "y":{"field":"m","type":"quantitative","axis":{"orient":"left","values":[-0.075,-0.07,-0.065,-0.055,-0.05,-0.045,-0.035,-0.03,-0.025,-0.015,-0.01,-0.005,0.005,0.01,0.015,0.025,0.03,0.035,0.045,0.05,0.055],"labels":false,"tickSize":-3.5,"title":null}}
   }},
  {"mark":{"type":"point","opacity":0},
   "encoding":{
    "x":{"field":"p","type":"quantitative","axis":{"orient":"top","values":[0,0.2,0.4,0.6,0.8,1.0],"labels":false,"tickSize":-7,"title":null}},
    "y":{"field":"m","type":"quantitative","axis":{"orient":"right","values":[-0.08,-0.06,-0.04,-0.02,0,0.02,0.04,0.06],"labels":false,"tickSize":-7,"title":null}}
   }},
  {"mark":{"type":"point","opacity":0},
   "encoding":{
    "x":{"field":"p","type":"quantitative","axis":{"orient":"top","values":[0.05,0.1,0.15,0.25,0.3,0.35,0.45,0.5,0.55,0.65,0.7,0.75,0.85,0.9,0.95],"labels":false,"tickSize":-3.5,"title":null}},
    "y":{"field":"m","type":"quantitative","axis":{"orient":"right","values":[-0.075,-0.07,-0.065,-0.055,-0.05,-0.045,-0.035,-0.03,-0.025,-0.015,-0.01,-0.005,0.005,0.01,0.015,0.025,0.03,0.035,0.045,0.05,0.055],"labels":false,"tickSize":-3.5,"title":null}}
   }}
 ],
 "resolve":{"axis":{"x":"independent","y":"independent"}}
}
]
}
